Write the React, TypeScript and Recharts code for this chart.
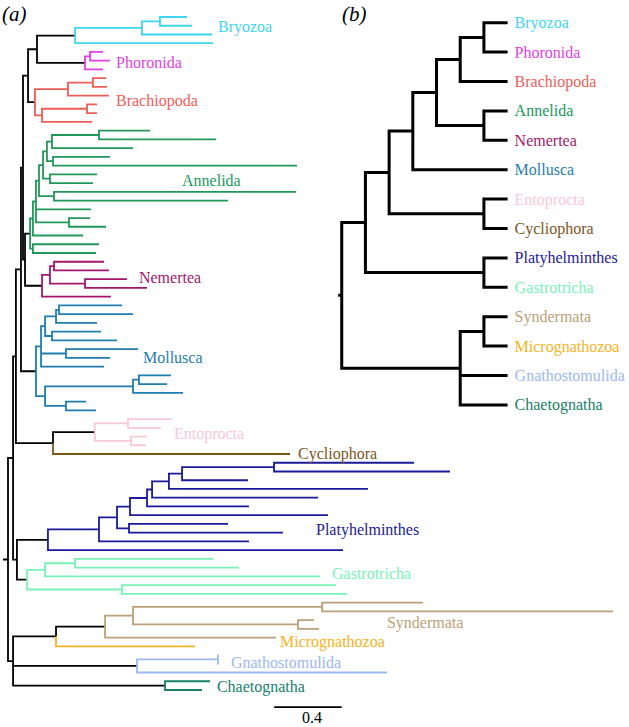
import React from "react";
import { ComposedChart, Line, Scatter, XAxis, YAxis } from "recharts";

type Tree = number | string | [number, Tree[]];
type Pt = { x: number; y: number | null };
interface P { x: number; y: number; kids: P[]; color: string; cladeRoot?: boolean }

const BLACK = "#000000";
const FONT = "'Liberation Serif', 'DejaVu Serif', serif";

// ---------- clade colours ----------
const cladeColors: Record<string, string> = {
  Bryozoa: "#3dd5ef",
  Phoronida: "#e23fe6",
  Brachiopoda: "#ef5d57",
  Annelida: "#20985a",
  Nemertea: "#a5176c",
  Mollusca: "#1f7db0",
  Entoprocta: "#f9c9d6",
  Cycliophora: "#7d5519",
  Platyhelminthes: "#1b1a9b",
  Gastrotricha: "#78f3b6",
  Syndermata: "#bca07a",
  Micrognathozoa: "#f7b321",
  Gnathostomulida: "#9cb8f2",
  Chaetognatha: "#17806a",
};

// ---------- (a) ML tree: node depth in substitutions/site from the root ----------
// internal node = [depth, children], leaf = depth
const bryozoa: Tree = [0.398, [[0.795, [[0.902, [1.062, 1.092]], 1.211]], 1.217]];
const phoronida: Tree = [0.457, [[0.487, [0.564, 0.605]], 0.564]];
const brachiopoda: Tree = [0.16, [[0.356, [[0.504, [0.582, 0.588]], 0.599]], [0.202, [[0.469, [0.528, 0.528]], 0.499]]]];
const annelida: Tree = [0.131, [
  [0.148, [
    [0.166, [
      [0.184, [
        [0.208, [
          [0.231, [[0.261, [[0.54, [0.843, 1.234]], 0.742]], [0.267, [0.605, 1.715]]]],
          [0.249, [0.528, 0.504]],
        ]],
        [0.273, [1.709, 1.306]],
      ]],
      0.493,
      [0.362, [0.487, 0.582]],
    ]],
    0.445,
  ]],
  [0.148, [0.54, 0.522]],
]];
const nemertea: Tree = [0.202, [[0.249, [[0.273, [0.57, 0.599]], [0.457, [0.706, 0.825]]]], 0.611]];
const mollusca: Tree = [0.166, [
  [0.196, [
    [0.22, [[0.285, [[0.303, [0.677, 0.742]], 0.528]], [0.261, [0.552, 0.647]]]],
    [0.344, [0.772, 0.605]],
    0.57,
  ]],
  [0.22, [[0.742, [[0.777, [0.967, 0.944]], 1.039]], [0.344, [0.463, 0.522]]]],
]];
const entoprocta: Tree = [0.516, [[0.712, [0.973, 0.908]], [0.73, [0.825, 0.819]]]];
const cycliophora: Tree = 1.674;
const platyhelminthes: Tree = [0.237, [
  [0.54, [
    [0.647, [
      [0.724, [
        [0.825, [
          [0.855, [
            [0.955, [[1.033, [[1.579, [2.409, 2.623]], 1.424]], 2.136]],
            1.84,
          ]],
          1.43,
        ]],
        1.899,
      ]],
      [0.718, [1.306, 1.632]],
    ]],
    1.43,
  ]],
  1.988,
]];
const gastrotricha: Tree = [0.113, [[0.22, [[0.398, [1.217, 1.371]], 1.852]], [0.677, [1.947, 2.012]]]];
const syndermata: Tree = [0.576, [[0.742, [[1.864, [2.463, 3.591]], [1.721, [1.816, 1.846]]]], 1.591]];
const micrognathozoa: Tree = 1.11;
const gnathostomulida: Tree = [0.766, [[1.246, [1.249, 1.249]], 2.249]];
const chaetognatha: Tree = [0.932, [1.199, 1.151]];

const cladeTrees: Record<string, Tree> = {
  Bryozoa: bryozoa, Phoronida: phoronida, Brachiopoda: brachiopoda, Annelida: annelida,
  Nemertea: nemertea, Mollusca: mollusca, Entoprocta: entoprocta, Cycliophora: cycliophora,
  Platyhelminthes: platyhelminthes, Gastrotricha: gastrotricha, Syndermata: syndermata,
  Micrognathozoa: micrognathozoa, Gnathostomulida: gnathostomulida, Chaetognatha: chaetognatha,
};

const backboneA: Tree = [0, [
  [0.03, [
    [0.047, [
      [0.077, [
        [0.089, [
          [0.119, [[0.172, ["Bryozoa", "Phoronida"]], "Brachiopoda"]],
          [0.101, ["Annelida", "Nemertea"]],
        ]],
        "Mollusca",
      ]],
      [0.267, ["Entoprocta", "Cycliophora"]],
    ]],
    [0.053, ["Platyhelminthes", "Gastrotricha"]],
  ]],
  [0.03, [[0.285, ["Syndermata", "Micrognathozoa"]], "Gnathostomulida", "Chaetognatha"]],
]];
const rootStubA = -0.03;
const scaleBarLength = 0.4;

// clade label anchors for (a): [substitutions, leaf row]
const labelAnchorsA = [
  { name: "Bryozoa", x: 1.246, y: 1.14 },
  { name: "Phoronida", x: 0.641, y: 5.15 },
  { name: "Brachiopoda", x: 0.641, y: 9.5 },
  { name: "Annelida", x: 1.033, y: 18.76 },
  { name: "Nemertea", x: 0.777, y: 29.75 },
  { name: "Mollusca", x: 0.801, y: 39.0 },
  { name: "Entoprocta", x: 0.985, y: 47.6 },
  { name: "Cycliophora", x: 1.721, y: 49.9 },
  { name: "Platyhelminthes", x: 1.828, y: 58.6 },
  { name: "Gastrotricha", x: 1.923, y: 63.7 },
  { name: "Syndermata", x: 2.249, y: 69.3 },
  { name: "Micrognathozoa", x: 1.614, y: 71.5 },
  { name: "Gnathostomulida", x: 1.323, y: 73.8 },
  { name: "Chaetognatha", x: 1.24, y: 76.6 },
];

// ---------- (b) summary cladogram: node rank ----------
const backboneB: Tree = [0, [
  [1, [
    [2, [
      [3, [
        [4, [
          [5, [[6, ["Bryozoa", "Phoronida"]], "Brachiopoda"]],
          [6, ["Annelida", "Nemertea"]],
        ]],
        "Mollusca",
      ]],
      [6, ["Entoprocta", "Cycliophora"]],
    ]],
    [6, ["Platyhelminthes", "Gastrotricha"]],
  ]],
  [5, [[6, ["Syndermata", "Micrognathozoa"]], "Gnathostomulida", "Chaetognatha"]],
]];
const tipRankB = 7;
const rootStubB = -0.15;

// ---------- layout helpers ----------
function placeA(t: Tree, color: string, ctr: { i: number }): P {
  if (typeof t === "string") {
    const n = placeA(cladeTrees[t], cladeColors[t], ctr);
    n.cladeRoot = true;
    return n;
  }
  if (typeof t === "number") return { x: t, y: ctr.i++, kids: [], color };
  const kids = t[1].map((k) => placeA(k, color, ctr));
  return { x: t[0], y: (kids[0].y + kids[kids.length - 1].y) / 2, kids, color };
}

function placeB(t: Tree, ctr: { i: number }, tips: { x: number; y: number; name: string }[]): P {
  if (typeof t === "string") {
    tips.push({ x: tipRankB, y: ctr.i, name: t });
    return { x: tipRankB, y: ctr.i++, kids: [], color: BLACK };
  }
  if (typeof t === "number") return { x: t, y: ctr.i++, kids: [], color: BLACK };
  const kids = t[1].map((k) => placeB(k, ctr, tips));
  return { x: t[0], y: (kids[0].y + kids[kids.length - 1].y) / 2, kids, color: BLACK };
}

function collect(n: P, groups: Map<string, Pt[]>) {
  for (const k of n.kids) {
    const col = k.cladeRoot && k.kids.length ? BLACK : k.color;
    if (!groups.has(col)) groups.set(col, []);
    groups.get(col)!.push({ x: n.x, y: n.y }, { x: n.x, y: k.y }, { x: k.x, y: k.y }, { x: k.x, y: null });
    collect(k, groups);
  }
}

function segmentsFor(root: P, stub: number) {
  const groups = new Map<string, Pt[]>();
  groups.set(BLACK, [{ x: stub, y: root.y }, { x: root.x, y: root.y }, { x: root.x, y: null }]);
  collect(root, groups);
  return Array.from(groups.entries());
}

const rootA = placeA(backboneA, BLACK, { i: 0 });
const segsA = segmentsFor(rootA, rootStubA);
const tipsB: { x: number; y: number; name: string }[] = [];
const rootB = placeB(backboneB, { i: 0 }, tipsB);
const segsB = segmentsFor(rootB, rootStubB);

// scale bar placement (layout)
const scaleBarX0 = 1.58;
const scaleBarRow = 78.95;
const scaleBarPts = [
  { x: scaleBarX0, y: scaleBarRow },
  { x: scaleBarX0 + scaleBarLength, y: scaleBarRow },
];
const scaleLabel = [{ x: 1.804, y: 80.78, name: String(scaleBarLength) }];
const panelLabels = [
  { x: -0.0356, y: 0.46, name: "(a)" },
  { x: 1.982, y: 0.46, name: "(b)" },
];

const txtStyle = (size: number, italic = false): React.CSSProperties => ({
  fontFamily: FONT,
  fontSize: size,
  fontStyle: italic ? "italic" : "normal",
});

const cladeText = (p: any) => (
  <text x={p.cx} y={p.cy} fill={cladeColors[p.payload.name]} style={txtStyle(16)} dominantBaseline="central">
    {p.payload.name}
  </text>
);
const tipText = (p: any) => (
  <text x={p.cx + 7} y={p.cy} fill={cladeColors[p.payload.name]} style={txtStyle(16)} dominantBaseline="central">
    {p.payload.name}
  </text>
);
const scaleText = (p: any) => (
  <text x={p.cx} y={p.cy} fill="#000" style={txtStyle(16)} textAnchor="middle">
    {p.payload.name}
  </text>
);
const panelText = (p: any) => (
  <text x={p.cx} y={p.cy} fill="#000" style={txtStyle(21, true)}>
    {p.payload.name}
  </text>
);

function renderLines(segs: [string, Pt[]][], width: number, prefix: string) {
  return segs.map(([col, pts], i) => (
    <Line
      key={prefix + i}
      data={pts}
      dataKey="y"
      type="linear"
      stroke={col}
      strokeWidth={width}
      dot={false}
      activeDot={false}
      connectNulls={false}
      isAnimationActive={false}
      legendType="none"
    />
  ));
}

export default function App() {
  return (
    <div style={{ position: "absolute", left: 0, top: 0, width: 629, height: 727, background: "#fff", fontFamily: FONT }}>
      <div style={{ position: "absolute", left: 0, top: 0 }}>
        <ComposedChart width={629} height={727} margin={{ top: 8.26, right: 14.4, bottom: 2.04, left: 0 }}>
          <XAxis type="number" dataKey="x" domain={[-0.0475, 3.6]} hide />
          <YAxis type="number" dataKey="y" domain={[-1, 81]} reversed hide />
          {renderLines(segsA, 1.8, "a")}
          <Line data={scaleBarPts} dataKey="y" stroke={BLACK} strokeWidth={1.8} dot={false} activeDot={false} isAnimationActive={false} legendType="none" />
          <Scatter data={labelAnchorsA} dataKey="y" shape={cladeText} isAnimationActive={false} legendType="none" />
          <Scatter data={scaleLabel} dataKey="y" shape={scaleText} isAnimationActive={false} legendType="none" />
          <Scatter data={panelLabels} dataKey="y" shape={panelText} isAnimationActive={false} legendType="none" />
        </ComposedChart>
      </div>
      <div style={{ position: "absolute", left: 0, top: 0 }}>
        <ComposedChart width={629} height={727} margin={{ top: 22.7, right: 121.4, bottom: 322.1, left: 337 }}>
          <XAxis type="number" dataKey="x" domain={[-0.2, 7]} hide />
          <YAxis type="number" dataKey="y" domain={[0, 13]} reversed hide />
          {renderLines(segsB, 3, "b")}
          <Scatter data={tipsB} dataKey="y" shape={tipText} isAnimationActive={false} legendType="none" />
        </ComposedChart>
      </div>
    </div>
  );
}
